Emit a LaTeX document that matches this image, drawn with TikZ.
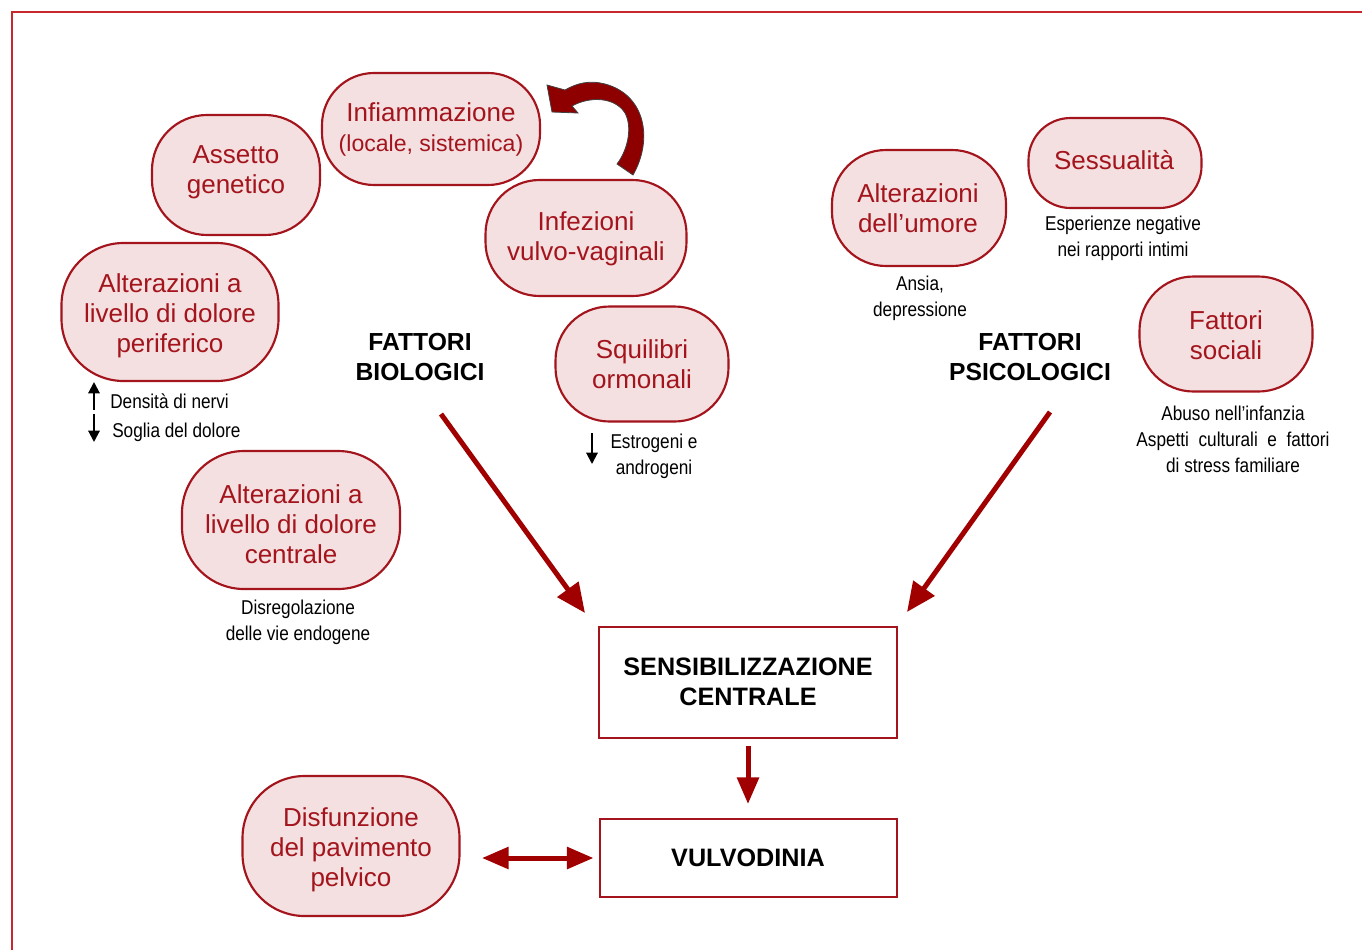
\documentclass[tikz,border=0pt]{standalone}
\usepackage{fontspec}
\setmainfont{Liberation Sans}
\newfontfamily\capfont[FakeStretch=0.86]{Liberation Sans}
\usetikzlibrary{arrows.meta}
\definecolor{ovb}{HTML}{A3141C}
\definecolor{ovf}{HTML}{F4E0E1}
\definecolor{arr}{HTML}{A00000}
\definecolor{framec}{HTML}{C8282D}
\definecolor{curv}{HTML}{8E0000}
\begin{document}
\begin{tikzpicture}[x=0.75pt,y=-0.75pt,
  ov/.style n args={3}{draw=ovb, fill=ovf, line width=1.6pt,
    minimum width=#1*0.75pt, minimum height=#2*0.75pt,
    rounded corners=#3*0.75pt, inner sep=0pt},
  ovt/.style={align=center, inner sep=0pt, text=ovb,
    font=\fontsize{19.5}{22.5}\selectfont},
  capt/.style={align=center, inner sep=0pt, font=\capfont\fontsize{15}{19.5}\selectfont},
  lab/.style={align=center, inner sep=0pt, font=\bfseries\fontsize{18.5}{22.5}\selectfont},
  bx/.style 2 args={draw=ovb, line width=1.5pt, minimum width=#1*0.75pt,
    minimum height=#2*0.75pt, inner sep=0pt, align=center,
    font=\bfseries\fontsize{18.9}{22.5}\selectfont},
  big/.style={draw=arr, line width=3.75pt, -{Triangle[length=22pt,width=19pt]}},
  bigv/.style={draw=arr, line width=3.75pt, -{Triangle[length=20pt,width=16pt]}},
  bigboth/.style={draw=arr, line width=3.75pt, {Triangle[length=20pt,width=16pt]}-{Triangle[length=20pt,width=16pt]}},
  small/.style={draw=black, line width=1.5pt, -{Triangle[length=8.5pt,width=8.5pt]}}
]
\useasboundingbox (0,0) rectangle (1362,950);
% frame
\draw[framec, line width=1.2pt] (12,950) -- (12,12) -- (1362,12);

% ovals
\node[ov={168}{120}{55}] (gen) at (236,175) {};
\node[ovt] (gent) at (236,172) {Assetto\\genetico};
\node[ov={218}{112}{52}] (inf) at (431,129) {};
\node[ovt] (inft) at (431,129) {Infiammazione\\{\fontsize{17.3}{22.5}\selectfont(locale, sistemica)}};
\node[ov={201}{116}{54}] (ivv) at (586,238) {};
\node[ovt] (ivvt) at (586,239) {Infezioni\\vulvo-vaginali};
\node[ov={217}{138}{62}] (per) at (170,312) {};
\node[ovt] (pert) at (170,316) {Alterazioni a\\livello di dolore\\periferico};
\node[ov={173}{115}{54}] (orm) at (642,364) {};
\node[ovt] (ormt) at (642,364) {Squilibri\\ormonali};
\node[ov={218}{138}{62}] (cen) at (291,520) {};
\node[ovt] (cent) at (291,524) {Alterazioni a\\livello di dolore\\centrale};
\node[ov={174}{116}{54}] (umo) at (919,208) {};
\node[ovt] (umot) at (918,208) {Alterazioni\\dell’umore};
\node[ov={173}{90}{42}] (ses) at (1115,163) {};
\node[ovt] (sest) at (1114,160) {Sessualità};
\node[ov={173}{115}{54}] (soc) at (1226,334) {};
\node[ovt] (soct) at (1226,335) {Fattori\\sociali};
\node[ov={217}{140}{62}] (dis) at (351,846) {};
\node[ovt] (dist) at (351,850) {Disfunzione\\del pavimento\\pelvico};

% labels
\node[lab] (bio) at (420,357) {FATTORI\\BIOLOGICI};
\node[lab] (psi) at (1030,357) {FATTORI\\PSICOLOGICI};

% boxes
\node[bx={298}{111}] (sens) at (748,682) {SENSIBILIZZAZIONE\\CENTRALE};
\node[bx={297}{78}] (vulv) at (748,858) {VULVODINIA};

% captions
\node[capt, anchor=west] (dn) at (110,401) {Densità di nervi};
\node[capt, anchor=west] (sd) at (112,432) {Soglia del dolore};
\node[capt] (est) at (654,456) {Estrogeni e\\androgeni};
\node[capt] (disr) at (298,622) {Disregolazione\\delle vie endogene};
\node[capt] (ans) at (920,298) {Ansia,\\depressione};
\node[capt] (esp) at (1123,238) {Esperienze negative\\nei rapporti intimi};
\node[capt] (abu) at (1233,439) {Abuso nell’infanzia\\Aspetti\ \ culturali\ \ e\ \ fattori\\di stress familiare};

% small arrows
\coordinate (ua1) at (94,410); \coordinate (ua2) at (94,382);
\coordinate (da1) at (94,414); \coordinate (da2) at (94,442);
\coordinate (ea1) at (592,433); \coordinate (ea2) at (592,464);
\draw[small] (ua1) -- (ua2);
\draw[small] (da1) -- (da2);
\draw[small] (ea1) -- (ea2);

% big arrows
\coordinate (b1) at (441,414); \coordinate (b2) at (585,613);
\coordinate (p1) at (1050,412); \coordinate (p2) at (907,612);
\draw[big] (b1) -- (b2);
\draw[big] (p1) -- (p2);
\draw[bigv, shorten <=5.25pt, shorten >=10.5pt] (sens.south) -- (vulv.north);
\coordinate (dl) at (482,858);
\draw[bigboth, shorten >=3.75pt] (dl) -- (vulv.west);

% curved block arrow
\filldraw[fill=curv, draw=black!75, line width=0.6pt]
  (633,175) .. controls (653,140) and (646,95) .. (605,84)
  .. controls (590,80) and (577,83) .. (565,90)
  -- (547,85) -- (552,112) -- (578,113) -- (572,106)
  .. controls (590,96) and (615,97) .. (625,113)
  .. controls (632,126) and (629,148) .. (617,164) -- cycle;
\end{tikzpicture}
\end{document}
